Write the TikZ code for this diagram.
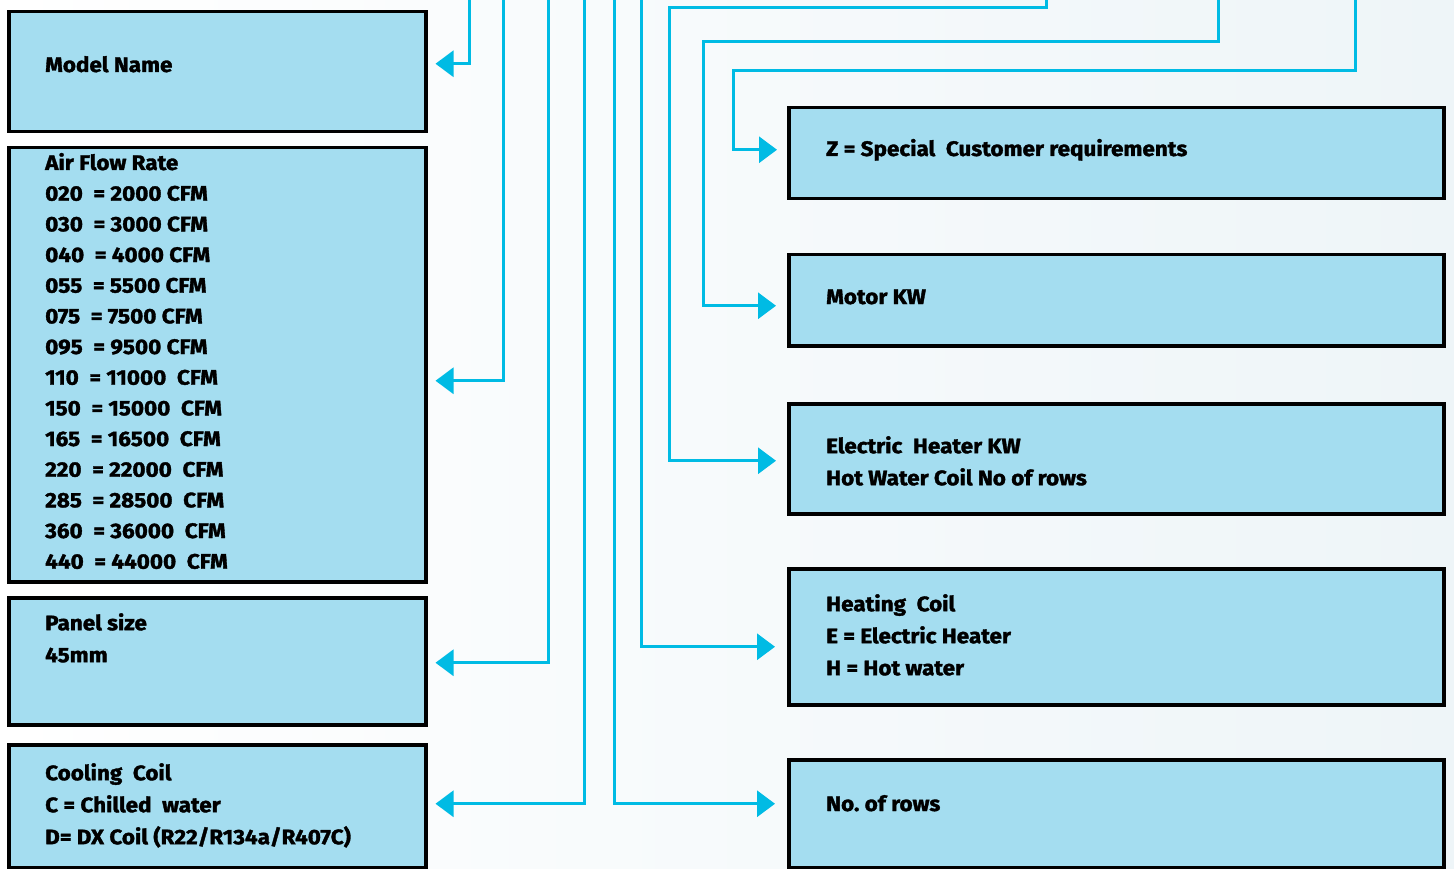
\documentclass[tikz,border=0pt]{standalone}
\usepackage{fontspec}
\setmainfont{Fira Sans}[BoldFeatures={FakeBold=1.6,FakeStretch=1.07}]
\frenchspacing
\usetikzlibrary{arrows.meta}
\definecolor{flowcyan}{RGB}{0,187,228}
\definecolor{boxblue}{RGB}{164,221,240}
\definecolor{bgpale}{RGB}{238,245,248}

\begin{document}
\begin{tikzpicture}[x=1pt,y=-1pt,line join=miter,
  box/.style={draw=black,line width=3.5pt,fill=boxblue,inner sep=0pt,
    anchor=north west,minimum width=#1},
  box/.default=417pt,
  lbl/.style={inner sep=0pt,font=\fontsize{21}{32}\selectfont\bfseries,align=left},
  flow/.style={draw=flowcyan,line width=3pt,-{Triangle[length=18pt,width=26pt]}}]

  % background
  \useasboundingbox (0,0) rectangle (1454,869);
  \shade[left color=white,right color=bgpale] (0,0) rectangle (1454,869);

  % left boxes
  \node[box,minimum height=120pt] (mname) at (7,10) {};
  \node[box,minimum height=434pt] (airflow) at (7,146) {};
  \node[box,minimum height=127pt] (panel) at (7,596) {};
  \node[box,minimum height=123pt] (cooling) at (7,743) {};

  % right boxes
  \node[box=655pt,minimum height=91pt] (zspec) at (787,106) {};
  \node[box=655pt,minimum height=91pt] (motor) at (787,253) {};
  \node[box=655pt,minimum height=110pt] (heater) at (787,402) {};
  \node[box=655pt,minimum height=136pt] (heating) at (787,567) {};
  \node[box=655pt,minimum height=108pt] (rows) at (787,758) {};

  % texts
  \node[lbl,anchor=base west] (tmname) at (45,72) {Model Name};
  \node[lbl,anchor=base west] (tair) at (45,170) {Air Flow Rate};
  \foreach \code/\cfm [count=\i] in {020/2000 CFM,030/3000 CFM,040/4000 CFM,
      055/5500 CFM,075/7500 CFM,095/9500 CFM,110/11000\ \ CFM,150/15000\ \ CFM,
      165/16500\ \ CFM,220/22000\ \ CFM,285/28500\ \ CFM,360/36000\ \ CFM,
      440/44000\ \ CFM}
    \node[lbl,anchor=base west] (tcfm\i) at (45,170+30.67*\i) {\code\ \ = \cfm};
  \node[lbl,anchor=north west] (tpanel) at (45,613) {Panel size\\45mm};
  \node[lbl,anchor=north west] (tcool) at (45,763)
      {Cooling\ \ Coil\\C = Chilled\ \ water\\D= DX Coil (R22/R134a/R407C)};
  \node[lbl,anchor=base west] (tzspec) at (826,156) {Z = Special\ \ Customer requirements};
  \node[lbl,anchor=base west] (tmotor) at (826,304) {Motor KW};
  \node[lbl,anchor=north west] (theater) at (826,436)
      {Electric\ \ Heater KW\\Hot Water Coil No of rows};
  \node[lbl,anchor=north west] (theating) at (826,594)
      {Heating\ \ Coil\\E = Electric Heater\\H = Hot water};
  \node[lbl,anchor=base west] (trows) at (826,811) {No. of rows};

  % connectors
  \coordinate (cm) at (469,-3);
  \coordinate (ca) at (503,-3);
  \coordinate (cp) at (548,-3);
  \coordinate (cc) at (584,-3);
  \coordinate (cr) at (614,-3);
  \coordinate (ch) at (641,-3);
  \coordinate (ce) at (1046,-3);
  \coordinate (ke) at (669,8);
  \coordinate (co) at (1218,-3);
  \coordinate (ko) at (703,42);
  \coordinate (cz) at (1355,-3);
  \coordinate (kz) at (733,71);

  \draw[flow,shorten >=8pt] (cm) |- ([yshift=8pt]mname.east);
  \draw[flow,shorten >=8pt] (ca) |- ([yshift=-16pt]airflow.east);
  \draw[flow,shorten >=8pt] (cp) |- ([yshift=-1.5pt]panel.east);
  \draw[flow,shorten >=8pt] (cc) |- ([yshift=2.5pt]cooling.east);
  \draw[flow,shorten >=12pt] (cr) |- ([yshift=10pt]rows.west);
  \draw[flow,shorten >=12pt] (ch) |- ([yshift=-10pt]heating.west);
  \draw[flow,shorten >=11pt] (ce) |- (ke) |- ([yshift=-2pt]heater.west);
  \draw[flow,shorten >=11pt] (co) |- (ko) |- ([yshift=-5.5pt]motor.west);
  \draw[flow,shorten >=10pt] (cz) |- (kz) |- ([yshift=3.5pt]zspec.west);
\end{tikzpicture}
\end{document}
